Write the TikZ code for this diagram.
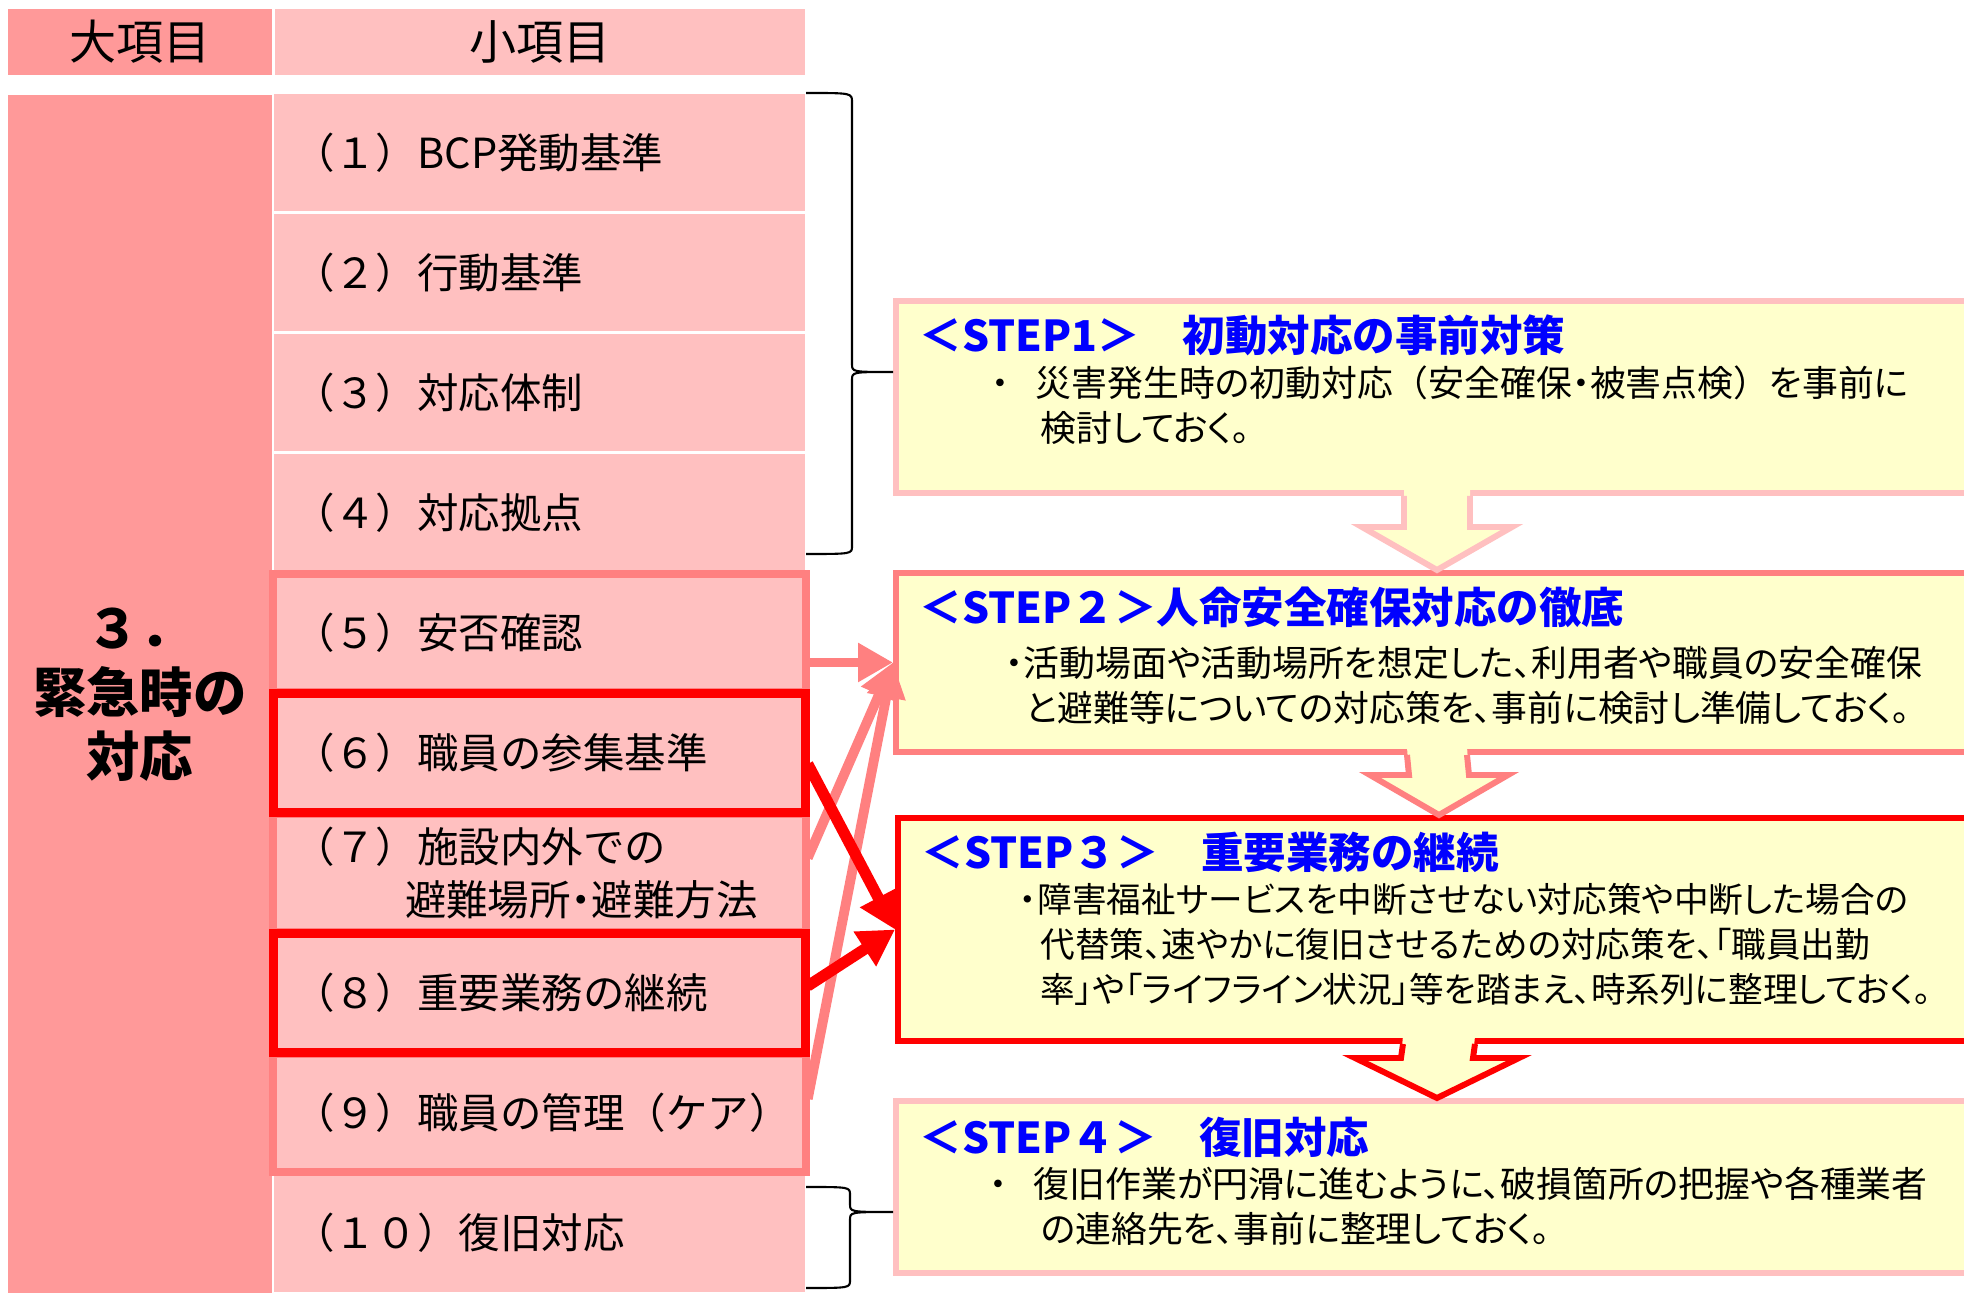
\documentclass[tikz,border=0pt]{standalone}
\usepackage{fontspec}
\setmainfont{Noto Sans CJK JP}
\newfontfamily\jpprop[RawFeature=+palt]{Noto Sans CJK JP}
\usetikzlibrary{arrows.meta,calc,positioning}

\definecolor{colbig}{HTML}{FF9999}
\definecolor{colcell}{HTML}{FFC0C0}
\definecolor{colpink}{HTML}{FF8080}
\definecolor{colred}{HTML}{FF0000}
\definecolor{colyellow}{HTML}{FFFFCC}
\definecolor{colblue}{HTML}{0000FF}

\begin{document}
\begin{tikzpicture}[x=0.1mm, y=-0.1mm,
    head/.style={minimum height=6.6mm, inner sep=0pt, font=\fontsize{13.4pt}{16pt}\selectfont},
    cell/.style={fill=colcell, text width=49.3mm, inner xsep=1.9mm, inner ysep=0pt, minimum height=11.7mm, align=left, font=\fontsize{11.8pt}{14.8pt}\selectfont},
    pinkframe/.style={draw=colpink, line width=2.3pt},
    redframe/.style={draw=colred, line width=2.6pt},
    stepbox/.style={fill=colyellow, minimum width=108.2mm, inner sep=0pt, line width=1.7pt, anchor=north west},
    steptitle/.style={text=colblue, font=\bfseries\fontsize{12.1pt}{14pt}\selectfont, inner sep=0pt, anchor=west},
    stepbody/.style={font=\jpprop\fontsize{10.2pt}{12.8pt}\selectfont, inner sep=0pt, anchor=west, align=left},
    pinkarrow/.style={-{Triangle[length=3.5mm, width=3.7mm]}, colpink, line width=2.8pt},
    redarrow/.style={-{Triangle[length=3.6mm, width=3.9mm]}, colred, line width=3.2pt},
    brace/.style={black, line width=0.6pt}
]
    \useasboundingbox (0,0) rectangle (1964,1293);
    \clip (0,0) rectangle (1964,1293);
    \fill[white] (0,0) rectangle (1964,1293);

    % Header row
    \node[head, fill=colbig, minimum width=26.4mm] (h1) at (140,42) {\raisebox{-0.4mm}{大項目}};
    \node[head, fill=colcell, minimum width=53mm] (h2) at (540,42) {\raisebox{-0.4mm}{小項目}};

    % Main category
    \node[fill=colbig, minimum width=26.4mm, minimum height=120mm, inner sep=0pt, align=center,
          font=\bfseries\fontsize{15.2pt}{18.2pt}\selectfont] (cat) at (140,695) {３．\\緊急時の\\対応};

    % Sub items
    \node[cell] (r1) at (539.5,153) {（１）BCP発動基準};
    \node[cell] (r2) at (539.5,273) {（２）行動基準};
    \node[cell] (r3) at (539.5,393) {（３）対応体制};
    \node[cell] (r4) at (539.5,513) {（４）対応拠点};
    \node[cell] (r5) at (539.5,633) {（５）安否確認};
    \node[cell] (r6) at (539.5,753) {（６）職員の参集基準};
    \node[cell] (r7) at (539.5,873) {（７）施設内外での\\\hspace*{11.2mm}避難場所{\jpprop ・}避難方法};
    \node[cell] (r8) at (539.5,993) {（８）重要業務の継続};
    \node[cell] (r9) at (539.5,1113) {（９）職員の管理（ケア）};
    \node[cell] (r10) at (539.5,1233) {（１０）復旧対応};

    % Highlights
    \draw[pinkframe] (r5.north west) rectangle (r5.south east);
    \draw[pinkframe] (r7.north west) rectangle (r7.south east);
    \draw[pinkframe] (r9.north west) rectangle (r9.south east);
    \draw[redframe] (r6.north west) rectangle (r6.south east);
    \draw[redframe] (r8.north west) rectangle (r8.south east);

    % Steps
    \node[stepbox, draw=colcell, minimum height=19.2mm] (s1) at (893,298) {};
    \node[stepbox, draw=colpink, minimum height=17.9mm] (s2) at (893,570) {};
    \node[stepbox, draw=colred, minimum height=22.3mm] (s3) at (895,815) {};
    \node[stepbox, draw=colcell, minimum height=17.2mm] (s4) at (893,1098) {};

    \node[steptitle] (t1) at (919,335) {＜STEP1＞　初動対応の事前対策};
    \node[stepbody] (b1) at (982,405) {\makebox[3.5mm]{・}\hspace{1.8mm}災害発生時の初動対応{\rmfamily （}安全確保・被害点検{\rmfamily ）}を事前に\\\hspace*{5.8mm}検討しておく。};

    \node[steptitle] (t2) at (919,607) {＜STEP２＞人命安全確保対応の徹底};
    \node[stepbody] (b2) at (1004,685) {\makebox[1.9mm]{・}活動場面や活動場所を想定した、利用者や職員の安全確保\\\hspace*{2.1mm}と避難等についての対応策を、事前に検討し準備しておく。};

    \node[steptitle] (t3) at (921,852) {＜STEP３＞　重要業務の継続};
    \node[stepbody, font=\jpprop\fontsize{9.85pt}{12.8pt}\selectfont] (b3) at (1017,944) {\makebox[2mm]{・}障害福祉サービスを中断させない対応策や中断した場合の\\\hspace*{2.3mm}代替策、速やかに復旧させるための対応策を、「職員出勤\\\hspace*{2.3mm}率」や「ライフライン状況」等を踏まえ、時系列に整理しておく。};

    \node[steptitle] (t4) at (919,1137) {＜STEP４＞　復旧対応};
    \node[stepbody] (b4) at (980,1206) {\makebox[3.5mm]{・}\hspace{1.8mm}復旧作業が円滑に進むように、破損箇所の把握や各種業者\\\hspace*{6mm}の連絡先を、事前に整理しておく。};

    % Block arrows between steps
    \fill[colyellow] ($(s1.south)+(-33,-8)$) -- ($(s2.north)+(-33,-43)$) -- ($(s2.north)+(-75,-43)$) -- (s2.north)
        -- ($(s2.north)+(75,-43)$) -- ($(s2.north)+(33,-43)$) -- ($(s1.south)+(33,-8)$) -- cycle;
    \draw[colcell, line width=1.7pt] ($(s1.south)+(-33,0)$) -- ($(s2.north)+(-33,-43)$) -- ($(s2.north)+(-75,-43)$) -- (s2.north)
        -- ($(s2.north)+(75,-43)$) -- ($(s2.north)+(33,-43)$) -- ($(s1.south)+(33,0)$);

    \fill[colyellow] ($(s2.south)+(-30,-8)$) -- ($(s3.north)+(-30,-40)$) -- ($(s3.north)+(-69,-40)$) -- (s3.north)
        -- ($(s3.north)+(69,-40)$) -- ($(s3.north)+(30,-40)$) -- ($(s2.south)+(30,-8)$) -- cycle;
    \draw[colpink, line width=1.7pt] ($(s2.south)+(-30,0)$) -- ($(s3.north)+(-30,-40)$) -- ($(s3.north)+(-69,-40)$) -- (s3.north)
        -- ($(s3.north)+(69,-40)$) -- ($(s3.north)+(30,-40)$) -- ($(s2.south)+(30,0)$);

    \fill[colyellow] ($(s3.south)+(-36,-8)$) -- ($(s4.north)+(-36,-40)$) -- ($(s4.north)+(-82,-40)$) -- (s4.north)
        -- ($(s4.north)+(82,-40)$) -- ($(s4.north)+(36,-40)$) -- ($(s3.south)+(36,-8)$) -- cycle;
    \draw[colred, line width=1.7pt] ($(s3.south)+(-36,0)$) -- ($(s4.north)+(-36,-40)$) -- ($(s4.north)+(-82,-40)$) -- (s4.north)
        -- ($(s4.north)+(82,-40)$) -- ($(s4.north)+(36,-40)$) -- ($(s3.south)+(36,0)$);

    % Braces
    \coordinate (k1a) at (806,93);
    \coordinate (k1b) at (806,554);
    \coordinate (k1t) at (s1.west |- 0,372);
    \draw[brace] (k1a) .. controls (852,93) .. (852,102) -- (852,364) .. controls (852,372) .. (k1t)
        .. controls (852,372) .. (852,380) -- (852,546) .. controls (852,554) .. (k1b);
    \coordinate (k4a) at (806,1187);
    \coordinate (k4b) at (806,1288);
    \coordinate (k4t) at (s4.west |- 0,1212);
    \draw[brace] (k4a) .. controls (850,1187) .. (850,1195) -- (850,1204) .. controls (850,1212) .. (k4t)
        .. controls (850,1212) .. (850,1220) -- (850,1280) .. controls (850,1288) .. (k4b);

    % Links to steps
    \draw[pinkarrow] (r5.east |- s2.west) -- (s2.west);
    \draw[pinkarrow] ($(r7.east)+(2,-15)$) -- (s2.west);
    \draw[pinkarrow] ($(r9.east)+(2,-14)$) -- (s2.west);
    \draw[redarrow] ($(r6.east)+(2,11)$) -- (s3.west);
    \draw[redarrow] ($(r8.east)+(2,-7)$) -- (s3.west);
\end{tikzpicture}
\end{document}
